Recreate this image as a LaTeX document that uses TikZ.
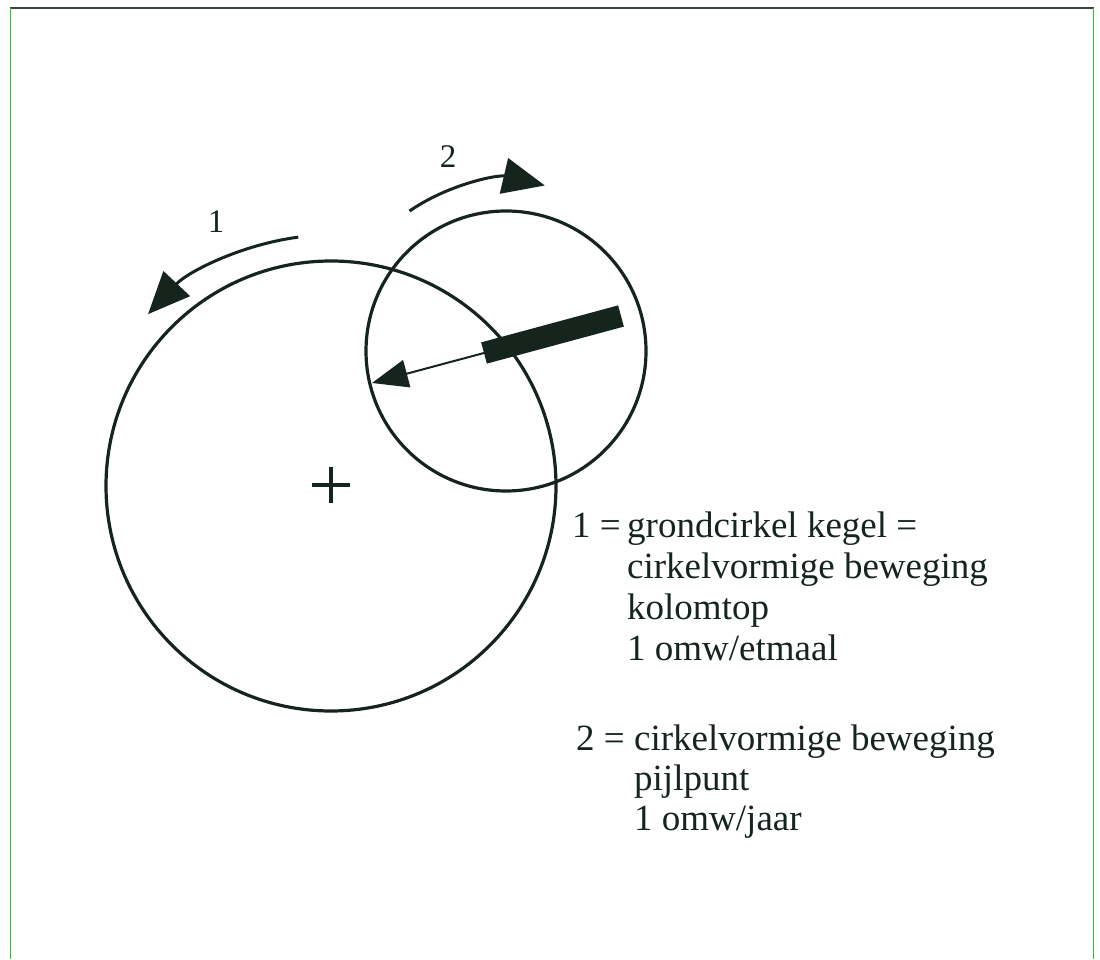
\documentclass[tikz,border=0pt]{standalone}
\usepackage{fontspec}
\setmainfont{Liberation Serif}
\usepackage{xcolor}
\usetikzlibrary{arrows.meta, positioning}
\definecolor{ink}{RGB}{22,36,30}
\definecolor{frame}{RGB}{40,200,40}

\begin{document}
\begin{tikzpicture}[
    x=1pt, y=1pt,
    ring/.style={draw=ink, line width=3.2pt},
    motion/.style={draw=ink, line width=3pt, -{Triangle[length=42pt, width=36pt]}, ink},
    pointer/.style={draw=ink, line width=2pt, -{Triangle[length=36pt, width=28pt]}, ink},
    rod/.style={draw=ink, line width=22pt},
    numlabel/.style={text=ink, font=\fontsize{33}{35}\selectfont, inner sep=0pt},
    legend/.style={text=ink, font=\fontsize{37}{41}\selectfont, inner sep=0pt, anchor=base west},
]
\useasboundingbox (0,0) rectangle (1100,959);

% === Frame ===
\draw[ink!85, line width=2.4pt] (10,951) -- (1094,951);
\draw[frame, line width=1.6pt] (10.5,951) -- (10.5,0);
\draw[frame, line width=1.6pt] (1093.5,951) -- (1093.5,0);

% === Circles ===
\coordinate (big) at (331,473);
\coordinate (small) at (506,608);
\draw[ring] (big) circle[radius=225];
\draw[ring] (small) circle[radius=140];

% centre mark
\draw[ink, line width=3.2pt] (312,474) -- (350,474);
\draw[ink, line width=3.2pt] (331,456) -- (331,492);

% === Rotation arrows ===
\draw[motion] ([shift={(97.5:251)}]big) arc[start angle=97.5, end angle=136.8, radius=251];
\draw[motion] ([shift={(124.6:170)}]small) arc[start angle=124.6, end angle=76.8, radius=170];
\node[numlabel] (n1) at (216,737) {1};
\node[numlabel] (n2) at (448,802) {2};

% === Rod with pointer ===
\coordinate (rodL) at (484,606);
\coordinate (rodR) at (621,643);
\coordinate (tip) at (372,576);
\draw[rod] (rodL) -- (rodR);
\draw[pointer] (rodL) -- (tip);

% === Legend ===
\node[legend] (k1) at (572,421) {1 =};
\foreach \txt [count=\i] in {grondcirkel kegel =, cirkelvormige beweging, kolomtop, 1 omw/etmaal}
    \node[legend] (l1\i) at (627,462-41*\i) {\txt};

\node[legend] (k2) at (576,209) {2 =};
\foreach \txt [count=\i] in {cirkelvormige beweging, pijlpunt, 1 omw/jaar}
    \node[legend] (l2\i) at (634,249-40*\i) {\txt};

\end{tikzpicture}
\end{document}
